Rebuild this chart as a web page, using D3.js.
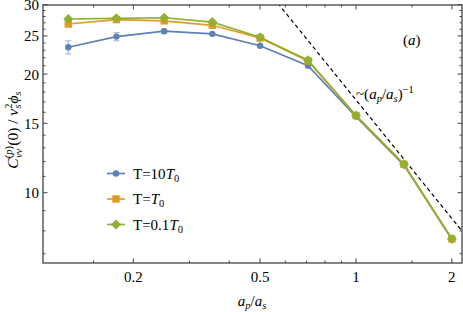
<!DOCTYPE html>
<html>
<head>
<meta charset="utf-8">
<script src="https://cdn.jsdelivr.net/npm/d3@7"></script>
<style>
  body { margin: 0; background: #fff; }
</style>
</head>
<body>
<svg id="chart" width="463" height="312" font-family="'Liberation Serif', 'Times New Roman', serif"></svg>
<script>
// data
const ratio = [0.125, 0.177, 0.25, 0.354, 0.5, 0.707, 1, 1.414, 2];
const hot   = [23.4, 24.9, 25.7, 25.3, 23.6, 21.0, 15.6, 11.75, 7.62]; // T=10T0
const hotErr = [0.9, 0.6, 0.3, 0.15, 0.1, 0.05, 0.05, 0.05, 0.05];
const mid   = [26.8, 27.5, 27.3, 26.6, 24.7, 21.6, 15.7, 11.8, 7.63];  // T=T0
const cold  = [27.6, 27.7, 27.8, 27.1, 24.8, 21.7, 15.7, 11.8, 7.63];  // T=0.1T0
const powerC = 17.2; // ~ C (ap/as)^-1
const powerX = [0.5, 2.3];

const xMajor = [0.2, 0.5, 1, 2];
const xMinor = [0.15, 0.3, 0.4, 0.6, 0.7, 0.8, 0.9, 1.5];
const yMajor = [10, 15, 20, 25, 30];
const yMinor = [7, 8, 9, 11, 12, 13, 14, 16, 17, 18, 19, 21, 22, 23, 24, 26, 27, 28, 29];

const series = [
  {name: '10', vals: hot, err: hotErr, color: '#5e81b5', shape: 'circle'},
  {name: '',   vals: mid, err: null, color: '#e19c24', shape: 'square'},
  {name: '0.1', vals: cold, err: null, color: '#8fb032', shape: 'diamond'}
];

//
// layout
//
const m = {left: 43, right: 462, top: 5, bottom: 263};
const svg = d3.select('#chart');

const x = d3.scaleLog().domain([0.1041, 2.152]).range([m.left, m.right]);
const y = d3.scaleLog().domain([6.63, 29.95]).range([m.bottom, m.top]);

svg.append('clipPath').attr('id', 'clip')
  .append('rect').attr('x', m.left).attr('y', m.top)
  .attr('width', m.right - m.left).attr('height', m.bottom - m.top);

const plot = svg.append('g').attr('clip-path', 'url(#clip)');

// reference power law
const line = d3.line().x(d => x(d[0])).y(d => y(d[1]));
plot.append('path')
  .attr('d', line(powerX.map(v => [v, powerC / v])))
  .attr('fill', 'none').attr('stroke', '#000')
  .attr('stroke-width', 1.2).attr('stroke-dasharray', '4,3');

// error bars
series.forEach(s => {
  if (!s.err) return;
  const g = plot.append('g').attr('stroke', '#a9bcdb').attr('stroke-width', 1.2);
  ratio.forEach((r, i) => {
    const e = s.err[i];
    if (e < 0.2) return;
    const cx = x(r), y0 = y(s.vals[i] - e), y1 = y(s.vals[i] + e);
    g.append('line').attr('x1', cx).attr('x2', cx).attr('y1', y0).attr('y2', y1);
    g.append('line').attr('x1', cx - 3).attr('x2', cx + 3).attr('y1', y0).attr('y2', y0);
    g.append('line').attr('x1', cx - 3).attr('x2', cx + 3).attr('y1', y1).attr('y2', y1);
  });
});

function marker(g, shape, cx, cy, color) {
  if (shape === 'circle') {
    g.append('circle').attr('cx', cx).attr('cy', cy).attr('r', 3.2).attr('fill', color);
  } else if (shape === 'square') {
    g.append('rect').attr('x', cx - 3.7).attr('y', cy - 3.7)
      .attr('width', 7.4).attr('height', 7.4).attr('fill', color);
  } else {
    const r = 5;
    g.append('path')
      .attr('d', `M${cx},${cy - r}L${cx + r},${cy}L${cx},${cy + r}L${cx - r},${cy}Z`)
      .attr('fill', color);
  }
}

series.forEach(s => {
  const pts = ratio.map((r, i) => [r, s.vals[i]]);
  plot.append('path').attr('d', line(pts))
    .attr('fill', 'none').attr('stroke', s.color).attr('stroke-width', 1.7);
  const g = plot.append('g');
  pts.forEach(p => marker(g, s.shape, x(p[0]), y(p[1]), s.color));
});

//
// frame and ticks
//
const axis = svg.append('g').attr('stroke', '#444').attr('stroke-width', 1);
axis.append('rect').attr('x', m.left).attr('y', m.top)
  .attr('width', m.right - m.left).attr('height', m.bottom - m.top)
  .attr('fill', 'none').attr('stroke-width', 1.3);

function xTicks(vals, len) {
  vals.forEach(v => {
    const px = x(v);
    axis.append('line').attr('x1', px).attr('x2', px).attr('y1', m.bottom).attr('y2', m.bottom - len);
    axis.append('line').attr('x1', px).attr('x2', px).attr('y1', m.top).attr('y2', m.top + len);
  });
}
function yTicks(vals, len) {
  vals.forEach(v => {
    const py = y(v);
    axis.append('line').attr('x1', m.left).attr('x2', m.left + len).attr('y1', py).attr('y2', py);
    axis.append('line').attr('x1', m.right).attr('x2', m.right - len).attr('y1', py).attr('y2', py);
  });
}
xTicks(xMajor, 4.5); xTicks(xMinor, 2.5);
yTicks(yMajor, 4.5); yTicks(yMinor, 2.5);

const fs = 15, ss = 10.5;
svg.append('g').selectAll('text').data(xMajor).join('text')
  .attr('x', d => x(d)).attr('y', 282).attr('text-anchor', 'middle')
  .attr('font-size', fs).text(d => d);
svg.append('g').selectAll('text').data(yMajor).join('text')
  .attr('x', 39).attr('y', d => y(d) + 5.5).attr('text-anchor', 'end')
  .attr('font-size', fs).text(d => d);

// x label
const xl = svg.append('text').attr('x', 252).attr('y', 306)
  .attr('text-anchor', 'middle').attr('font-size', fs).attr('font-style', 'italic');
xl.append('tspan').text('a');
xl.append('tspan').attr('dy', 3).attr('font-size', ss).text('p');
xl.append('tspan').attr('dy', -3).attr('font-style', 'normal').text('/');
xl.append('tspan').text('a');
xl.append('tspan').attr('dy', 3).attr('font-size', ss).text('s');

// y label
const yl = svg.append('text').attr('transform', 'translate(18,130) rotate(-90)')
  .attr('text-anchor', 'middle').attr('font-size', 15.5);
yl.append('tspan').attr('font-style', 'italic').text('C');
yl.append('tspan').attr('dy', -6).attr('font-size', ss).text('(');
yl.append('tspan').attr('font-size', ss).attr('font-style', 'italic').text('p');
yl.append('tspan').attr('font-size', ss).text(')');
yl.append('tspan').attr('dx', -12).attr('dy', 10).attr('font-size', ss).attr('font-style', 'italic').text('vv');
yl.append('tspan').attr('dx', 3).attr('dy', -4).text('(0) / ');
yl.append('tspan').attr('font-style', 'italic').text('v');
yl.append('tspan').attr('dy', -6).attr('font-size', ss).text('2');
yl.append('tspan').attr('dx', -5).attr('dy', 9).attr('font-size', ss).attr('font-style', 'italic').text('s');
yl.append('tspan').attr('dx', 1).attr('dy', -3).attr('font-style', 'italic').text('\u03d5');
yl.append('tspan').attr('dy', 3).attr('font-size', ss).attr('font-style', 'italic').text('s');

// annotations
const pa = svg.append('text').attr('x', 403).attr('y', 45).attr('font-size', fs);
pa.append('tspan').text('(');
pa.append('tspan').attr('font-style', 'italic').text('a');
pa.append('tspan').text(')');

const ann = svg.append('text').attr('x', 356).attr('y', 99).attr('font-size', fs);
ann.append('tspan').text('~(');
ann.append('tspan').attr('font-style', 'italic').text('a');
ann.append('tspan').attr('dy', 3).attr('font-size', ss).attr('font-style', 'italic').text('p');
ann.append('tspan').attr('dy', -3).text('/');
ann.append('tspan').attr('font-style', 'italic').text('a');
ann.append('tspan').attr('dy', 3).attr('font-size', ss).attr('font-style', 'italic').text('s');
ann.append('tspan').attr('dy', -3).text(')');
ann.append('tspan').attr('dy', -6).attr('font-size', ss).text('\u22121');

// legend
const leg = svg.append('g');
series.forEach((s, i) => {
  const cy = 173.5 + i * 25.5;
  leg.append('line').attr('x1', 107).attr('x2', 125).attr('y1', cy).attr('y2', cy)
    .attr('stroke', s.color).attr('stroke-width', 1.7);
  marker(leg, s.shape, 116, cy, s.color);
  const t = leg.append('text').attr('x', 133).attr('y', cy + 5).attr('font-size', fs);
  t.append('tspan').text('T=' + s.name);
  t.append('tspan').attr('font-style', 'italic').text('T');
  t.append('tspan').attr('dy', 3).attr('font-size', ss).text('0');
});
</script>
</body>
</html>
